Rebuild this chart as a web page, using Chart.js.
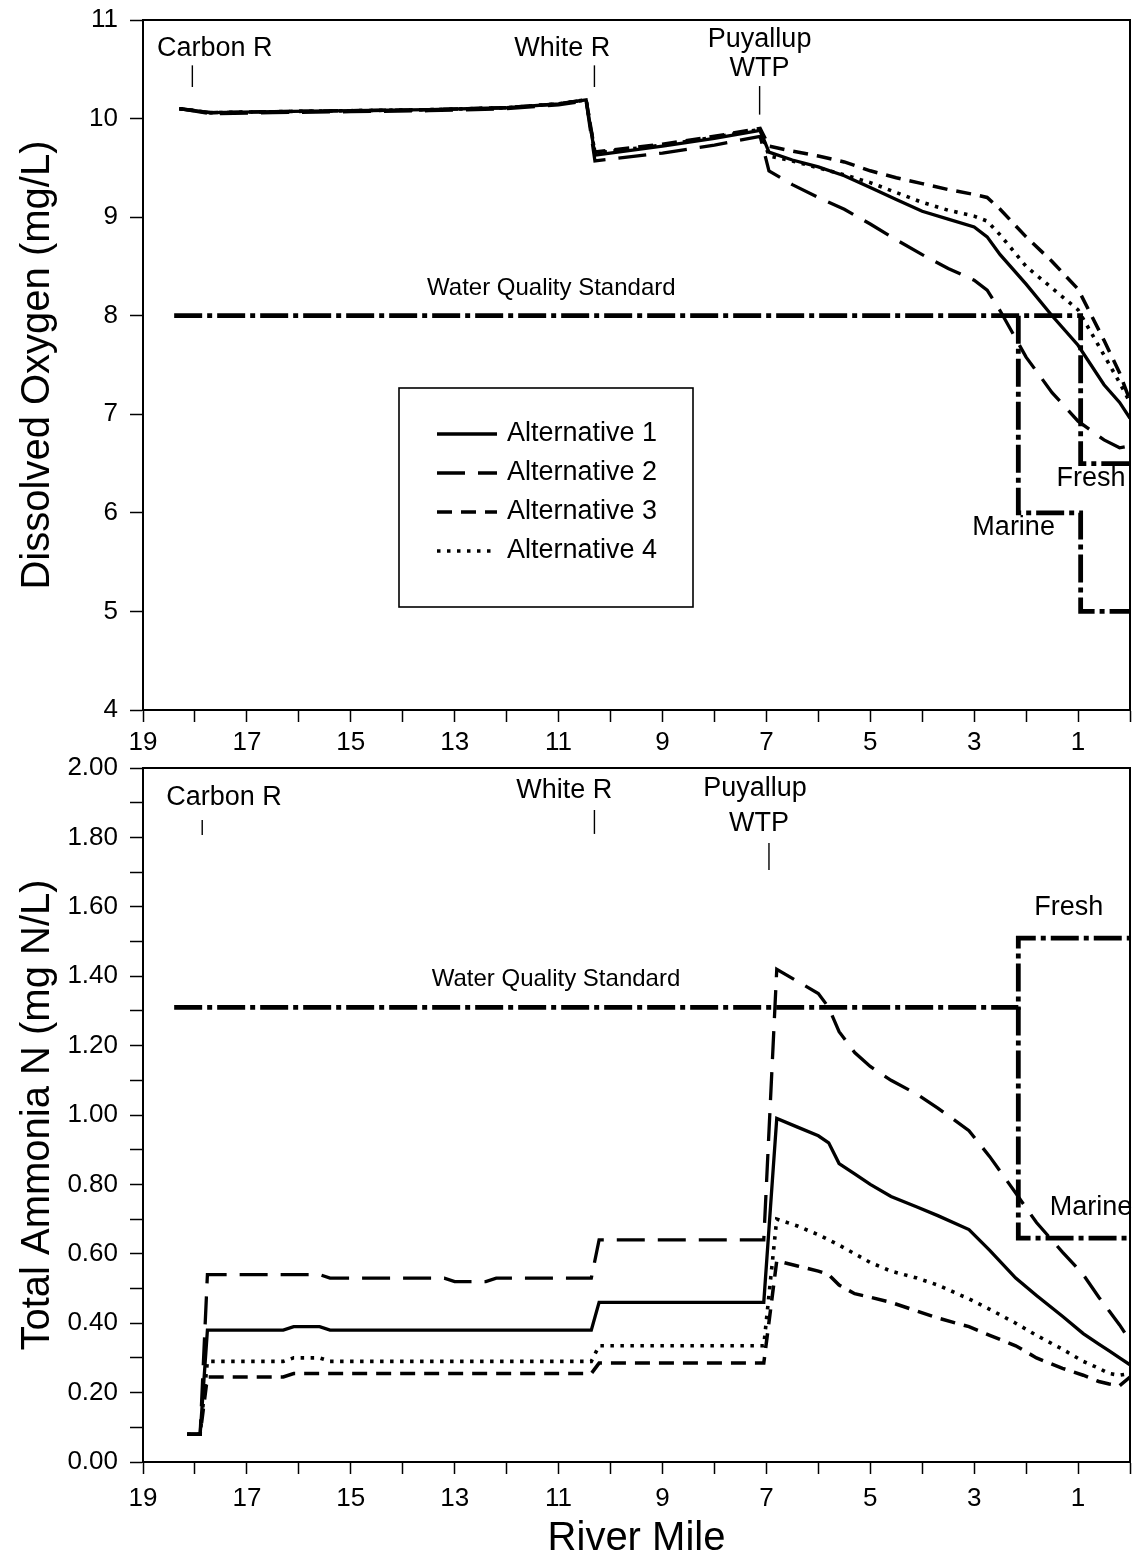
<!DOCTYPE html>
<html>
<head>
<meta charset="utf-8">
<script src="https://cdn.jsdelivr.net/npm/chart.js@4.4.1/dist/chart.umd.min.js"></script>
<style>
  html, body { margin: 0; padding: 0; background: #ffffff; }
  #page { position: relative; width: 1134px; height: 1560px; background: #ffffff; overflow: hidden; }
  #page canvas { position: absolute; left: 0; }
</style>
</head>
<body>
<div id="page">
  <canvas id="doChart" width="1134" height="760" style="top:0px"></canvas>
  <canvas id="nhChart" width="1134" height="825" style="top:735px"></canvas>
</div>
<script>
// ---------------- Dissolved oxygen (mg/L) by river mile ----------------
const doMiles = [18.3, 17.7, 16.5, 15.0, 13.5, 12.0, 11.0, 10.47, 10.3, 9.0, 8.0, 7.12, 6.95, 6.5, 6.0, 5.5, 5.0, 4.5, 4.0, 3.5, 3.0, 2.75, 2.5, 2.0, 1.5, 1.0, 0.5, 0.2, 0];
const doAlt1 = [10.10, 10.06, 10.07, 10.08, 10.09, 10.11, 10.15, 10.19, 9.63, 9.72, 9.80, 9.88, 9.66, 9.58, 9.51, 9.42, 9.30, 9.18, 9.06, 8.98, 8.90, 8.80, 8.62, 8.32, 8.00, 7.70, 7.30, 7.12, 6.96];
const doAlt2 = [10.10, 10.05, 10.06, 10.07, 10.08, 10.10, 10.14, 10.18, 9.57, 9.65, 9.73, 9.82, 9.47, 9.33, 9.20, 9.08, 8.93, 8.77, 8.62, 8.48, 8.36, 8.26, 8.05, 7.58, 7.22, 6.93, 6.74, 6.66, 6.68];
const doAlt3 = [10.10, 10.06, 10.07, 10.08, 10.09, 10.11, 10.15, 10.19, 9.66, 9.74, 9.82, 9.90, 9.72, 9.67, 9.62, 9.56, 9.47, 9.40, 9.34, 9.28, 9.23, 9.20, 9.08, 8.80, 8.55, 8.27, 7.75, 7.42, 7.14];
const doAlt4 = [10.10, 10.06, 10.07, 10.08, 10.09, 10.11, 10.15, 10.19, 9.65, 9.73, 9.81, 9.89, 9.62, 9.57, 9.50, 9.43, 9.35, 9.25, 9.15, 9.07, 9.01, 8.96, 8.82, 8.50, 8.28, 8.06, 7.60, 7.32, 7.12];

// Dissolved oxygen water quality standard (fresh and marine reaches)
const doStdFreshMiles  = [18.4, 0.95, 0.95, 0];
const doStdFreshVals   = [8.0, 8.0, 6.5, 6.5];
const doStdMarineMiles = [2.15, 2.15, 0.95, 0.95, 0];
const doStdMarineVals  = [8.0, 6.0, 6.0, 5.0, 5.0];

// ---------------- Total ammonia N (mg N/L) by river mile ----------------
const nhMiles = [18.15, 17.9, 17.76, 16.3, 16.1, 15.6, 15.4, 13.2, 13.0, 12.4, 12.2, 10.37, 10.22, 7.05, 6.8, 6.4, 6.0, 5.8, 5.6, 5.3, 5.0, 4.6, 4.1, 3.7, 3.1, 2.7, 2.2, 1.8, 1.3, 0.9, 0.6, 0.4, 0.2, 0];
const nhAlt1 = [0.08, 0.08, 0.38, 0.38, 0.39, 0.39, 0.38, 0.38, 0.38, 0.38, 0.38, 0.38, 0.46, 0.46, 0.99, 0.965, 0.94, 0.92, 0.86, 0.83, 0.80, 0.765, 0.735, 0.71, 0.67, 0.61, 0.53, 0.48, 0.42, 0.37, 0.34, 0.32, 0.30, 0.28];
const nhAlt2 = [0.08, 0.08, 0.54, 0.54, 0.54, 0.54, 0.53, 0.53, 0.52, 0.52, 0.53, 0.53, 0.64, 0.64, 1.42, 1.385, 1.35, 1.31, 1.24, 1.18, 1.14, 1.10, 1.06, 1.02, 0.955, 0.88, 0.775, 0.69, 0.605, 0.54, 0.475, 0.435, 0.395, 0.35];
const nhAlt3 = [0.08, 0.08, 0.245, 0.245, 0.255, 0.255, 0.255, 0.255, 0.255, 0.255, 0.255, 0.255, 0.285, 0.285, 0.58, 0.565, 0.55, 0.54, 0.51, 0.485, 0.475, 0.46, 0.435, 0.415, 0.39, 0.365, 0.335, 0.30, 0.27, 0.25, 0.232, 0.225, 0.22, 0.245];
const nhAlt4 = [0.08, 0.08, 0.29, 0.29, 0.30, 0.30, 0.29, 0.29, 0.29, 0.29, 0.29, 0.29, 0.335, 0.335, 0.70, 0.68, 0.655, 0.64, 0.625, 0.60, 0.575, 0.55, 0.53, 0.51, 0.47, 0.44, 0.40, 0.365, 0.325, 0.29, 0.27, 0.255, 0.25, 0.255];

// Ammonia water quality standard (fresh and marine reaches)
const nhStdFreshMiles  = [18.4, 2.15, 2.15, 0];
const nhStdFreshVals   = [1.31, 1.31, 1.51, 1.51];
const nhStdMarineMiles = [2.15, 2.15, 0];
const nhStdMarineVals  = [1.31, 0.645, 0.645];

// Series names and axis text
const altNames = ['Alternative 1', 'Alternative 2', 'Alternative 3', 'Alternative 4'];
const mileTickLabels = ['19', '17', '15', '13', '11', '9', '7', '5', '3', '1'];
const doTitle = 'Dissolved Oxygen (mg/L)';
const nhTitle = 'Total Ammonia N (mg N/L)';
const xTitle = 'River Mile';

// Landmark labels: text, river mile, value (in each chart's own units)
const doNotes = [
  { text: 'Carbon R', mile: 17.62, val: 10.71, size: 27 },
  { text: 'White R', mile: 10.93, val: 10.71, size: 27 },
  { text: 'Puyallup', mile: 7.13, val: 10.80, size: 27 },
  { text: 'WTP', mile: 7.13, val: 10.51, size: 27 },
  { text: 'Water Quality Standard', mile: 11.14, val: 8.28, size: 24 },
  { text: 'Fresh', mile: 0.75, val: 6.35, size: 27 },
  { text: 'Marine', mile: 2.24, val: 5.85, size: 27 }
];
const doMarks = [
  { mile: 18.05, from: 10.54, to: 10.32 },
  { mile: 10.31, from: 10.54, to: 10.32 },
  { mile: 7.13, from: 10.33, to: 10.04 }
];
const nhNotes = [
  { text: 'Carbon R', mile: 17.44, val: 1.916, size: 27 },
  { text: 'White R', mile: 10.89, val: 1.934, size: 27 },
  { text: 'Puyallup', mile: 7.22, val: 1.94, size: 27 },
  { text: 'WTP', mile: 7.14, val: 1.84, size: 27 },
  { text: 'Water Quality Standard', mile: 11.05, val: 1.39, size: 24 },
  { text: 'Fresh', mile: 1.18, val: 1.597, size: 27 },
  { text: 'Marine', mile: 0.75, val: 0.732, size: 27 }
];
const nhMarks = [
  { mile: 17.86, from: 1.85, to: 1.807 },
  { mile: 10.31, from: 1.879, to: 1.81 },
  { mile: 6.95, from: 1.784, to: 1.706 }
];

// ---------------- drawing helpers ----------------
const FONT = "'Liberation Sans', Arial, Helvetica, sans-serif";
const INK = '#000000';

const altStyles = [
  { borderDash: [], borderWidth: 3.3 },
  { borderDash: [28, 13], borderWidth: 3.3 },
  { borderDash: [15, 9], borderWidth: 3.5 },
  { borderDash: [3.5, 6.5], borderWidth: 3.6 }
];
const stdStyle = { borderDash: [28, 5, 5, 5], borderWidth: 4.8 };

function zip(miles, vals) {
  return miles.map((m, i) => ({ x: m, y: vals[i] }));
}

function lineSet(label, miles, vals, style) {
  return {
    label: label,
    data: zip(miles, vals),
    borderColor: INK,
    backgroundColor: INK,
    borderWidth: style.borderWidth,
    borderDash: style.borderDash,
    borderCapStyle: 'butt',
    borderJoinStyle: 'miter',
    pointRadius: 0,
    tension: 0,
    fill: false
  };
}

// Frame, landmark labels and (optionally) the legend box
const decorPlugin = {
  id: 'decor',
  afterDraw(chart, args, opts) {
    const { ctx, chartArea: a, scales } = chart;
    const xs = scales.x, ys = scales.y;
    ctx.save();
    // top and right frame lines
    ctx.strokeStyle = INK;
    ctx.lineWidth = 2;
    ctx.setLineDash([]);
    ctx.beginPath();
    ctx.moveTo(a.left, a.top);
    ctx.lineTo(a.right, a.top);
    ctx.lineTo(a.right, a.bottom);
    ctx.stroke();

    // landmark tick marks
    ctx.lineWidth = 1.4;
    (opts.marks || []).forEach(mk => {
      const x = xs.getPixelForValue(mk.mile);
      ctx.beginPath();
      ctx.moveTo(x, ys.getPixelForValue(mk.from));
      ctx.lineTo(x, ys.getPixelForValue(mk.to));
      ctx.stroke();
    });

    // labels
    ctx.fillStyle = INK;
    ctx.textAlign = 'center';
    ctx.textBaseline = 'middle';
    (opts.notes || []).forEach(n => {
      ctx.font = n.size + 'px ' + FONT;
      ctx.fillText(n.text, xs.getPixelForValue(n.mile), ys.getPixelForValue(n.val));
    });

    // legend box
    const lg = opts.legend;
    if (lg) {
      const bx = a.left + lg.dx, by = a.top + lg.dy;
      ctx.lineWidth = 1.6;
      ctx.setLineDash([]);
      ctx.strokeRect(bx, by, lg.w, lg.h);
      ctx.font = lg.size + 'px ' + FONT;
      ctx.textAlign = 'left';
      chart.data.datasets.forEach((ds, i) => {
        if (i >= altNames.length) return;
        const y = by + lg.firstRow + i * lg.rowGap;
        ctx.lineWidth = ds.borderWidth;
        ctx.setLineDash(ds.borderDash);
        ctx.lineCap = 'butt';
        ctx.beginPath();
        ctx.moveTo(bx + lg.lineStart, y);
        ctx.lineTo(bx + lg.lineEnd, y);
        ctx.stroke();
        ctx.setLineDash([]);
        ctx.fillText(ds.label, bx + lg.textStart, y);
      });
    }
    ctx.restore();
  }
};

function mileAxis(titleText, labelPad) {
  return {
    type: 'linear',
    position: 'bottom',
    min: 0,
    max: 19,
    reverse: true,
    afterBuildTicks(scale) {
      const t = [];
      for (let v = 19; v >= 0; v--) t.push({ value: v });
      scale.ticks = t;
    },
    ticks: {
      autoSkip: false,
      maxRotation: 0,
      minRotation: 0,
      padding: labelPad,
      color: INK,
      font: { family: FONT, size: 26 },
      callback: v => (mileTickLabels.includes(String(v)) ? String(v) : '')
    },
    grid: {
      drawOnChartArea: false,
      drawTicks: true,
      tickLength: 12,
      tickWidth: 1.5,
      tickColor: INK
    },
    border: { display: true, color: INK, width: 2 },
    title: titleText ? {
      display: true,
      text: titleText,
      color: INK,
      font: { family: FONT, size: 40 },
      padding: { top: 0, bottom: -3 }
    } : { display: false }
  };
}

function valueAxis(min, max, step, labelFn, titleText) {
  return {
    type: 'linear',
    position: 'left',
    min: min,
    max: max,
    afterBuildTicks(scale) {
      const t = [];
      const n = Math.round((max - min) / step);
      for (let i = 0; i <= n; i++) t.push({ value: +(min + i * step).toFixed(4) });
      scale.ticks = t;
    },
    ticks: {
      autoSkip: false,
      padding: 12,
      color: INK,
      font: { family: FONT, size: 26 },
      callback: labelFn
    },
    grid: {
      drawOnChartArea: false,
      drawTicks: true,
      tickLength: 13,
      tickWidth: 1.5,
      tickColor: INK
    },
    border: { display: true, color: INK, width: 2 },
    title: {
      display: true,
      text: titleText,
      color: INK,
      font: { family: FONT, size: 40 },
      padding: { top: 14, bottom: 0 }
    }
  };
}

// fixed axis sizes so both plots share the same frame; label overhang is not reserved
function fixSizes(opts, yWidth, xHeight) {
  opts.scales.y.afterFit = s => {
    s.width = yWidth;
    s.paddingTop = 0;
    s.paddingBottom = 0;
  };
  opts.scales.x.afterFit = s => {
    s.height = xHeight;
    s.paddingLeft = 0;
    s.paddingRight = 0;
  };
  return opts;
}

const commonOpts = {
  responsive: false,
  animation: false,
  devicePixelRatio: 1,
  events: []
};

// ---------------- top chart: dissolved oxygen ----------------
const doAlts = [doAlt1, doAlt2, doAlt3, doAlt4];
const doOptions = fixSizes(Object.assign({}, commonOpts, {
  layout: { padding: { left: 0, right: 4, top: 20, bottom: 0 } },
  scales: {
    x: mileAxis(null, 5),
    y: valueAxis(4, 11, 1, v => String(v), doTitle)
  },
  plugins: {
    legend: { display: false },
    tooltip: { enabled: false },
    decor: {
      notes: doNotes,
      marks: doMarks,
      legend: { dx: 256, dy: 368, w: 294, h: 219, size: 27,
                firstRow: 46, rowGap: 39, lineStart: 38, lineEnd: 98, textStart: 108 }
    }
  }
}), 143, 50);

new Chart(document.getElementById('doChart'), {
  type: 'line',
  data: {
    datasets: [
      ...doAlts.map((vals, i) => lineSet(altNames[i], doMiles, vals, altStyles[i])),
      lineSet('Fresh', doStdFreshMiles, doStdFreshVals, stdStyle),
      lineSet('Marine', doStdMarineMiles, doStdMarineVals, stdStyle)
    ]
  },
  options: doOptions,
  plugins: [decorPlugin]
});

// ---------------- bottom chart: total ammonia N ----------------
const nhAlts = [nhAlt1, nhAlt2, nhAlt3, nhAlt4];
const nhOptions = fixSizes(Object.assign({}, commonOpts, {
  layout: { padding: { left: 0, right: 4, top: 33, bottom: 0 } },
  scales: {
    x: mileAxis(xTitle, 9),
    y: valueAxis(0, 2, 0.1, v => (Math.round(v * 10) % 2 === 0 ? v.toFixed(2) : ''), nhTitle)
  },
  plugins: {
    legend: { display: false },
    tooltip: { enabled: false },
    decor: { notes: nhNotes, marks: nhMarks }
  }
}), 143, 98);

new Chart(document.getElementById('nhChart'), {
  type: 'line',
  data: {
    datasets: [
      ...nhAlts.map((vals, i) => lineSet(altNames[i], nhMiles, vals, altStyles[i])),
      lineSet('Fresh', nhStdFreshMiles, nhStdFreshVals, stdStyle),
      lineSet('Marine', nhStdMarineMiles, nhStdMarineVals, stdStyle)
    ]
  },
  options: nhOptions,
  plugins: [decorPlugin]
});
</script>
</body>
</html>
